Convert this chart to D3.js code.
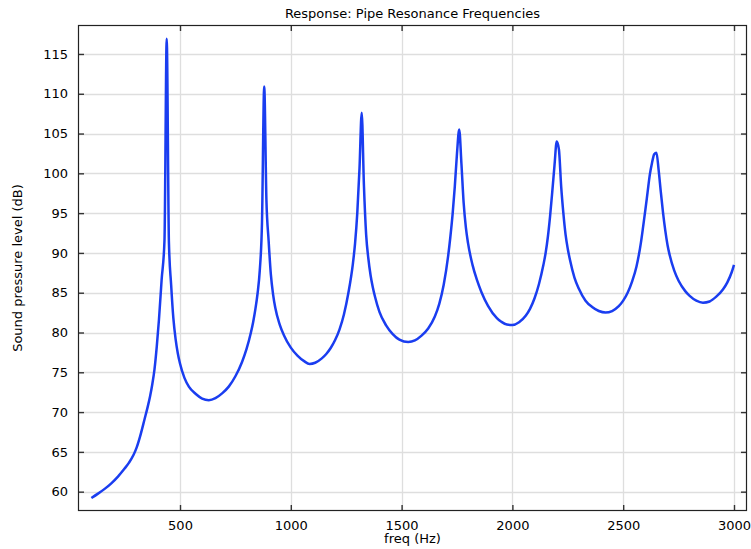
<!DOCTYPE html>
<html>
<head>
<meta charset="utf-8">
<script src="https://cdn.jsdelivr.net/npm/d3@7"></script>
<style>
  html, body { margin: 0; padding: 0; background: #fff; }
  svg { display: block; }
  text { font-family: "DejaVu Sans", sans-serif; fill: #000; }
</style>
</head>
<body>
<svg id="chart" width="751" height="549"></svg>
<script>
const title = "Response: Pipe Resonance Frequencies";
const xLabel = "freq (Hz)";
const yLabel = "Sound pressure level (dB)";
const xTicks = [500, 1000, 1500, 2000, 2500, 3000];
const yTicks = [60, 65, 70, 75, 80, 85, 90, 95, 100, 105, 110, 115];

const freq = [100, 130, 160, 190, 220, 250, 270, 290, 305, 320, 340, 355, 365, 375, 385, 395, 405, 417, 430, 440,
  450, 460, 470, 480, 490, 500, 520, 540, 570, 600, 630, 660, 690, 720, 750, 780, 800, 820, 830, 840, 850, 860, 870, 880,
  890, 900, 910, 920, 930, 950, 970, 1000, 1030, 1060, 1085, 1110, 1140, 1160, 1180, 1200, 1220, 1240, 1260, 1280, 1290, 1300, 1310, 1320,
  1330, 1340, 1350, 1360, 1370, 1380, 1400, 1430, 1460, 1490, 1530, 1560, 1590, 1620, 1650, 1670, 1690, 1710, 1720, 1730, 1740, 1750, 1760,
  1770, 1780, 1790, 1800, 1820, 1840, 1860, 1890, 1930, 1950, 1975, 2000, 2030, 2060, 2080, 2100, 2120, 2140, 2150, 2160, 2170, 2180, 2190, 2200,
  2210, 2220, 2230, 2240, 2250, 2260, 2280, 2300, 2330, 2360, 2390, 2420, 2450, 2480, 2500, 2520, 2540, 2560, 2580, 2590, 2600, 2610, 2620, 2630, 2640,
  2650, 2660, 2670, 2680, 2690, 2700, 2710, 2730, 2750, 2780, 2800, 2830, 2860, 2890, 2920, 2950, 2970, 2990, 3000];

const spl = [59.2, 59.75, 60.35, 61.05, 61.9, 62.9, 63.65, 64.6, 65.6, 66.95, 69.1, 70.75, 72.0, 73.5, 75.4, 78.2, 81.6, 86.6, 91.6, 116.9,
  91.3, 86.0, 81.8, 79.2, 77.4, 76.1, 74.3, 73.2, 72.3, 71.7, 71.5, 71.75, 72.35, 73.2, 74.5, 76.3, 77.9, 80.0, 81.3, 82.9, 84.9, 87.8, 93.8, 110.9,
  96.6, 91.5, 87.3, 84.8, 83.1, 81.0, 79.6, 78.1, 77.1, 76.4, 76.05, 76.2, 76.75, 77.3, 78.05, 79.05, 80.4, 82.3, 85.0, 88.6, 91.2, 95.0, 100.6, 107.6,
  98.5, 92.3, 89.3, 87.2, 85.7, 84.5, 82.6, 80.9, 79.8, 79.1, 78.8, 79.0, 79.6, 80.5, 82.0, 83.6, 86.0, 89.6, 92.0, 94.8, 98.3, 102.5, 105.5,
  101.2, 96.3, 93.2, 91.2, 88.5, 86.6, 85.1, 83.35, 81.8, 81.35, 81.0, 80.95, 81.3, 82.1, 83.0, 84.3, 86.1, 88.5, 90.0, 92.0, 94.6, 97.7, 101.0, 104.0,
  103.0, 98.4, 95.0, 92.3, 90.5, 89.1, 86.9, 85.5, 84.0, 83.2, 82.7, 82.5, 82.7, 83.3, 84.0, 85.0, 86.4, 88.3, 91.3, 93.3, 95.4, 97.6, 99.8, 101.3, 102.4,
  102.6, 100.4, 97.6, 95.0, 92.8, 91.0, 89.7, 87.8, 86.5, 85.2, 84.6, 84.0, 83.75, 83.9, 84.5, 85.4, 86.3, 87.6, 88.5];

const svg = d3.select("#chart");
const L = 78, T = 25, R = 747, B = 511;

const x = d3.scaleLinear().domain([39.7, 3058.7]).range([L, R]);
const y = d3.scaleLinear().domain([57.57, 118.64]).range([B, T]);

// grid
const grid = svg.append("g");
grid.selectAll(".gx").data(xTicks).enter().append("line")
  .attr("x1", d => Math.round(x(d)) + 0.5).attr("x2", d => Math.round(x(d)) + 0.5)
  .attr("y1", T).attr("y2", B)
  .attr("stroke", "#dedede").attr("stroke-width", 1.3);
grid.selectAll(".gy").data(yTicks).enter().append("line")
  .attr("y1", d => Math.round(y(d)) + 0.5).attr("y2", d => Math.round(y(d)) + 0.5)
  .attr("x1", L).attr("x2", R)
  .attr("stroke", "#dedede").attr("stroke-width", 1.3);

// curve
const pts = freq.map((f, i) => [f, spl[i]]);
const line = d3.line().x(d => x(d[0])).y(d => y(d[1])).curve(d3.curveMonotoneX);
svg.append("path").datum(pts)
  .attr("d", line)
  .attr("fill", "none")
  .attr("stroke", "#1a3df0")
  .attr("stroke-width", 2.5)
  .attr("stroke-linejoin", "round");

// axes (ticks inward, on all four sides)
const tickLen = 6;
const axBottom = d3.axisBottom(x).tickValues(xTicks).tickSize(-tickLen).tickPadding(10).tickFormat(d3.format("d"));
const axTop = d3.axisTop(x).tickValues(xTicks).tickSize(-tickLen).tickFormat("");
const axLeft = d3.axisLeft(y).tickValues(yTicks).tickSize(-tickLen).tickPadding(10).tickFormat(d3.format("d"));
const axRight = d3.axisRight(y).tickValues(yTicks).tickSize(-tickLen).tickFormat("");

function style(g) {
  g.select(".domain").remove();
  g.selectAll(".tick line").attr("stroke", "#333").attr("stroke-width", 1.4);
  g.selectAll(".tick text").attr("font-size", 13).attr("font-family", "DejaVu Sans, sans-serif").attr("fill", "#111");
}
svg.append("g").attr("transform", `translate(0,${B})`).call(axBottom).call(style);
svg.append("g").attr("transform", `translate(0,${T})`).call(axTop).call(style);
svg.append("g").attr("transform", `translate(${L},0)`).call(axLeft).call(style);
svg.append("g").attr("transform", `translate(${R},0)`).call(axRight).call(style);

// frame
svg.append("rect")
  .attr("x", L + 0.5).attr("y", T + 0.5)
  .attr("width", R - L - 1).attr("height", B - T - 1)
  .attr("fill", "none").attr("stroke", "#222").attr("stroke-width", 1.2);

// texts
svg.append("text").attr("x", (L + R) / 2).attr("y", 18)
  .attr("text-anchor", "middle").attr("font-size", 13).text(title);
svg.append("text").attr("x", (L + R) / 2).attr("y", 543)
  .attr("text-anchor", "middle").attr("font-size", 13).text(xLabel);
svg.append("text").attr("transform", `translate(22,${(T + B) / 2}) rotate(-90)`)
  .attr("text-anchor", "middle").attr("font-size", 13).text(yLabel);
</script>
</body>
</html>
